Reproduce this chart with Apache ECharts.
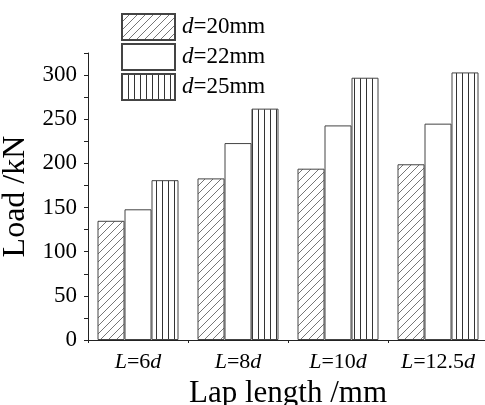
<!DOCTYPE html>
<html>
<head>
<meta charset="utf-8">
<script src="https://cdn.jsdelivr.net/npm/echarts@6/dist/echarts.min.js"></script>
<style>
    html, body { margin: 0; padding: 0; background: #fff; }
    #chart { width: 485px; height: 405px; }
</style>
</head>
<body>
<div id="chart"></div>
<script>
// data
var categories = ["6", "8", "10", "12.5"];
var seriesNames = ["20mm", "22mm", "25mm"];
var load20 = [135, 183, 194, 199];
var load22 = [148, 223, 243, 245];
var load25 = [181, 262, 297, 303];
var yTicks = [0, 50, 100, 150, 200, 250, 300];

var serif = "'Liberation Serif', 'DejaVu Serif', serif";

// fill patterns for the bars
function hatchPattern() {
    var c = document.createElement("canvas");
    c.width = 8;
    c.height = 8;
    var ctx = c.getContext("2d");
    ctx.fillStyle = "#fff";
    ctx.fillRect(0, 0, 8, 8);
    ctx.strokeStyle = "#666";
    ctx.lineWidth = 0.9;
    ctx.beginPath();
    ctx.moveTo(0, 8);
    ctx.lineTo(8, 0);
    ctx.moveTo(-2, 2);
    ctx.lineTo(2, -2);
    ctx.moveTo(6, 10);
    ctx.lineTo(10, 6);
    ctx.stroke();
    return c;
}
function stripePattern() {
    var c = document.createElement("canvas");
    c.width = 6;
    c.height = 6;
    var ctx = c.getContext("2d");
    ctx.fillStyle = "#fff";
    ctx.fillRect(0, 0, 6, 6);
    ctx.fillStyle = "#333";
    ctx.fillRect(0, 0, 1, 6);
    return c;
}

var fills = [
    { image: hatchPattern(), repeat: "repeat" },
    "#fff",
    { image: stripePattern(), repeat: "repeat" }
];
var values = [load20, load22, load25];

var chart = echarts.init(document.getElementById("chart"));

chart.setOption({
    animation: false,
    backgroundColor: "#fff",
    textStyle: { fontFamily: serif, color: "#000" },
    grid: { left: 88, top: 53, width: 400, height: 287, containLabel: false, outerBoundsMode: "none" },
    legend: {
        orient: "vertical",
        left: 121,
        top: 13,
        padding: 0,
        icon: "rect",
        itemWidth: 53,
        itemHeight: 26,
        itemGap: 2,
        data: seriesNames,
        formatter: function (name) {
            return "{i|d}=" + name;
        },
        textStyle: {
            fontFamily: serif,
            fontSize: 23,
            color: "#000",
            padding: [0, 0, 0, 2],
            rich: {
                i: { fontFamily: serif, fontStyle: "italic", fontSize: 23, color: "#000" }
            }
        }
    },
    xAxis: [
        {
            type: "category",
            data: categories,
            axisLine: { lineStyle: { color: "#222", width: 1 } },
            axisTick: { alignWithLabel: true, length: 5, lineStyle: { color: "#222" } },
            axisLabel: {
                interval: 0,
                margin: 11,
                fontSize: 22,
                color: "#000",
                fontFamily: serif,
                formatter: function (v) {
                    return "{i|L}=" + v + "{i|d}";
                },
                rich: {
                    i: { fontStyle: "italic", fontSize: 22, fontFamily: serif, color: "#000" }
                }
            },
            name: "Lap length /mm",
            nameLocation: "middle",
            nameGap: 30,
            nameTextStyle: { fontSize: 31, fontFamily: serif, color: "#000" }
        },
        {
            // minor ticks on the category boundaries
            type: "category",
            data: categories,
            position: "bottom",
            boundaryGap: true,
            axisLine: { show: true, onZero: false, lineStyle: { color: "#222", width: 1 } },
            axisTick: { show: true, alignWithLabel: false, interval: 0, length: 3, lineStyle: { color: "#222", width: 1 } },
            axisLabel: { show: false },
            z: 10
        }
    ],
    yAxis: {
        type: "value",
        min: 0,
        max: 325,
        interval: 25,
        splitLine: { show: false },
        axisLine: { show: true, lineStyle: { color: "#222", width: 1 } },
        axisTick: { show: true, length: 4, lineStyle: { color: "#222" } },
        axisLabel: {
            margin: 11,
            fontSize: 23,
            color: "#000",
            fontFamily: serif,
            formatter: function (v) {
                return yTicks.indexOf(v) >= 0 ? String(v) : "";
            }
        },
        name: "Load /kN",
        nameLocation: "middle",
        nameGap: 56,
        nameTextStyle: { fontSize: 32, fontFamily: serif, color: "#000" }
    },
    series: seriesNames.map(function (name, i) {
        return {
            name: name,
            type: "bar",
            data: values[i],
            barGap: "0%",
            barCategoryGap: "19%",
            itemStyle: {
                color: fills[i],
                borderColor: "#444",
                borderWidth: 1
            }
        };
    })
});
</script>
</body>
</html>
